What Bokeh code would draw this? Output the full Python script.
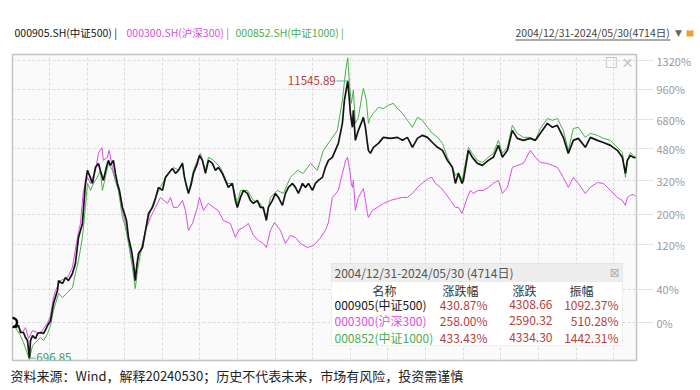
import pandas as pd
from bokeh.plotting import figure
from bokeh.core.properties import value
from bokeh.models import (Range1d, FixedTicker, CustomJSTickFormatter, Label,
                          BoxAnnotation, ColumnDataSource, Column)
from bokeh.embed import file_html
from bokeh.resources import INLINE

FONT = "Noto Sans CJK SC"
BASE = 1000.0

# ---------------- data (index levels, base 1000 on 2004-12-31) ----------------
CSI500_DATES = [
    "2004-12-31", "2005-02-04", "2005-03-10", "2005-04-01", "2005-05-05", "2005-05-28", "2005-06-20",
    "2005-07-11", "2005-07-24", "2005-08-16", "2005-09-19", "2005-10-12", "2005-11-15", "2005-12-19",
    "2006-02-03", "2006-03-09", "2006-04-11", "2006-05-27", "2006-06-08", "2006-07-23", "2006-08-26",
    "2006-09-29", "2006-11-13", "2006-12-17", "2007-01-21", "2007-03-07", "2007-04-10", "2007-05-03",
    "2007-05-26", "2007-06-29", "2007-08-02", "2007-09-05", "2007-09-27", "2007-10-31", "2007-12-04",
    "2007-12-27", "2008-01-19", "2008-02-22", "2008-03-16", "2008-04-08", "2008-05-01", "2008-06-04",
    "2008-06-27", "2008-07-20", "2008-08-12", "2008-09-15", "2008-10-08", "2008-10-28", "2008-11-12",
    "2008-12-04", "2009-01-19", "2009-02-22", "2009-03-28", "2009-05-12", "2009-06-15", "2009-07-19",
    "2009-09-03", "2009-10-07", "2009-11-10", "2009-12-25", "2010-01-29", "2010-03-04", "2010-04-18",
    "2010-05-11", "2010-06-25", "2010-07-29", "2010-08-21", "2010-10-05", "2010-10-28", "2010-12-01",
    "2011-01-05", "2011-02-08", "2011-03-25", "2011-04-28", "2011-06-01", "2011-07-16", "2011-08-19",
    "2011-09-22", "2011-11-07", "2011-12-11", "2012-01-03", "2012-02-07", "2012-03-12", "2012-04-26",
    "2012-05-30", "2012-07-03", "2012-08-17", "2012-09-20", "2012-10-24", "2012-11-28", "2012-12-21",
    "2013-02-05", "2013-03-11", "2013-04-14", "2013-05-30", "2013-07-03", "2013-08-06", "2013-09-21",
    "2013-10-25", "2013-11-28", "2014-01-13", "2014-02-16", "2014-03-22", "2014-05-06", "2014-06-09",
    "2014-07-13", "2014-08-28", "2014-10-01", "2014-11-04", "2014-12-19", "2015-01-22", "2015-02-25",
    "2015-04-12", "2015-05-05", "2015-06-12", "2015-07-01", "2015-07-12", "2015-08-04", "2015-08-15",
    "2015-09-07", "2015-10-11", "2015-11-25", "2015-12-07", "2015-12-30", "2016-01-22", "2016-02-02",
    "2016-02-25", "2016-03-30", "2016-05-26", "2016-07-22", "2016-10-10", "2016-12-29", "2017-02-24",
    "2017-04-21", "2017-06-17", "2017-08-13", "2017-10-09", "2017-12-05", "2018-01-31", "2018-03-29",
    "2018-05-25", "2018-07-20", "2018-09-15", "2018-10-19", "2018-11-22", "2019-01-03", "2019-01-18",
    "2019-03-16", "2019-04-30", "2019-06-26", "2019-08-22", "2019-10-29", "2019-12-25", "2020-02-20",
    "2020-04-06", "2020-06-02", "2020-07-28", "2020-09-23", "2020-11-30", "2021-02-18", "2021-04-16",
    "2021-06-12", "2021-08-31", "2021-10-27", "2021-12-22", "2022-02-28", "2022-04-26", "2022-06-22",
    "2022-08-18", "2022-11-06", "2023-01-02", "2023-03-23", "2023-05-30", "2023-08-18", "2023-11-05",
    "2024-01-01", "2024-02-05", "2024-02-27", "2024-04-01", "2024-05-05", "2024-05-30"]
CSI500_LEVELS = [
    1000, 951, 970, 904, 904, 860, 833,
    696.85, 833, 876, 850, 895, 904, 895,
    970, 1020, 1212, 1383, 1530, 1484, 1578,
    1530, 1643, 1818, 2367, 2727, 4091, 4668,
    4437, 4091, 4813, 5010, 4668, 4218, 4813,
    5166, 4911, 5166, 4527, 4091, 3811, 3209,
    3018, 2812, 2367, 2074, 1818, 1530, 1746,
    2011, 2139, 2541, 3018, 3209, 3510, 3930,
    3811, 4349, 4527, 4757, 4527, 4668, 5010,
    4349, 3697, 4091, 4527, 5010, 5435, 5166,
    4527, 5166, 5010, 4668, 4813, 4527, 4218,
    3930, 4091, 3444, 3209, 3551, 3811, 3697,
    3444, 3340, 3444, 3209, 3209, 2812, 3209,
    3444, 3697, 3551, 3274, 3697, 3930, 4091,
    3930, 3697, 4091, 3930, 4091, 3811, 4091,
    4218, 4349, 4813, 5166, 5327, 5717, 6137,
    7516, 9491, 11545.89, 9491, 8318, 7220, 8576,
    6327, 7002, 7749, 7990, 7220, 6137, 5717,
    5545, 5895, 6137, 6521, 6456, 6521, 6327,
    6521, 5895, 6456, 6656, 6521, 6190, 5895,
    5717, 5166, 4813, 4091, 4527, 4091, 4218,
    5717, 5327, 5010, 4911, 5166, 5327, 6015,
    5327, 5717, 7002, 6456, 6327, 6456, 6327,
    6791, 7516, 7220, 7366, 6521, 5545, 6327,
    6456, 5895, 6521, 6327, 6190, 6015, 5717,
    5327, 4527, 5166, 5435, 5327, 5308.66]

CSI300_DATES = [
    "2004-12-31", "2005-03-10", "2005-04-23", "2005-05-28", "2005-07-01", "2005-08-16", "2005-10-12",
    "2005-11-15", "2005-12-19", "2006-02-03", "2006-03-09", "2006-04-11", "2006-05-04", "2006-06-30",
    "2006-09-17", "2006-11-13", "2007-01-09", "2007-02-12", "2007-03-18", "2007-05-03", "2007-06-07",
    "2007-08-02", "2007-09-05", "2007-10-16", "2007-10-31", "2007-12-16", "2008-01-05", "2008-02-11",
    "2008-03-16", "2008-04-20", "2008-06-04", "2008-07-09", "2008-08-12", "2008-09-26", "2008-10-28",
    "2008-11-23", "2008-12-27", "2009-02-22", "2009-04-19", "2009-06-15", "2009-08-10", "2009-10-30",
    "2009-12-02", "2010-01-06", "2010-02-21", "2010-04-18", "2010-05-22", "2010-06-25", "2010-08-10",
    "2010-10-05", "2010-10-28", "2010-12-13", "2011-02-08", "2011-04-06", "2011-05-30", "2011-07-28",
    "2011-10-16", "2011-12-11", "2012-01-20", "2012-03-12", "2012-05-08", "2012-07-03", "2012-08-30",
    "2012-10-24", "2012-11-28", "2013-01-13", "2013-02-28", "2013-05-07", "2013-07-03", "2013-08-28",
    "2013-10-25", "2013-12-20", "2014-03-10", "2014-05-18", "2014-07-30", "2014-10-01", "2014-11-04",
    "2014-12-19", "2015-02-25", "2015-04-12", "2015-05-20", "2015-06-08", "2015-07-01", "2015-07-23",
    "2015-08-04", "2015-08-15", "2015-09-07", "2015-10-11", "2015-11-25", "2015-12-07", "2015-12-30",
    "2016-01-22", "2016-02-02", "2016-03-18", "2016-05-14", "2016-07-22", "2016-10-10", "2016-12-29",
    "2017-02-24", "2017-04-21", "2017-06-17", "2017-08-13", "2017-10-17", "2017-12-16", "2018-01-24",
    "2018-03-07", "2018-05-03", "2018-06-28", "2018-08-24", "2018-10-19", "2018-11-22", "2019-01-03",
    "2019-03-04", "2019-04-07", "2019-05-10", "2019-07-06", "2019-09-01", "2019-10-29", "2019-12-25",
    "2020-02-20", "2020-04-06", "2020-06-02", "2020-07-28", "2020-09-23", "2020-11-30", "2021-02-18",
    "2021-04-16", "2021-06-12", "2021-08-31", "2021-10-27", "2021-12-22", "2022-02-28", "2022-04-26",
    "2022-06-22", "2022-08-18", "2022-11-06", "2023-01-02", "2023-03-23", "2023-05-30", "2023-08-18",
    "2023-11-05", "2024-01-01", "2024-02-05", "2024-02-27", "2024-04-01", "2024-05-05", "2024-05-30"]
CSI300_LEVELS = [
    1000, 951, 904, 951, 850, 922, 904,
    895, 941, 1000, 1073, 1288, 1383, 1530,
    1578, 1746, 2367, 2727, 3811, 4349, 4091,
    4668, 5545, 5877, 5166, 5327, 5717, 4813,
    4218, 3811, 3112, 2727, 2296, 1818, 1578,
    1874, 2074, 2541, 2899, 3209, 3551, 3340,
    3551, 3209, 3209, 3444, 3112, 2541, 2727,
    3209, 3551, 3112, 3340, 3209, 3112, 2812,
    2727, 2367, 2560, 2620, 2727, 2415, 2296,
    2226, 2139, 2541, 2753, 2541, 2226, 2415,
    2367, 2226, 2139, 2182, 2341, 2541, 2753,
    3551, 3811, 4527, 5166, 5327, 4813, 4091,
    3930, 4218, 3112, 3551, 3811, 3885, 3444,
    3018, 2899, 3112, 3209, 3340, 3444, 3510,
    3551, 3551, 3697, 3930, 4128, 4298, 4349,
    4091, 3930, 3697, 3444, 3209, 3209, 3018,
    3551, 3811, 3697, 3811, 3811, 3930, 4091,
    4218, 3697, 3930, 4813, 4911, 5010, 5717,
    5327, 5054, 5010, 4911, 4813, 4349, 3930,
    4349, 4091, 3697, 3930, 4128, 4091, 3811,
    3551, 3444, 3274, 3551, 3623, 3660, 3590.32]

CSI1000_DATES = [
    "2004-12-31", "2005-04-01", "2005-05-05", "2005-07-11", "2005-08-16", "2005-10-12", "2005-11-15",
    "2005-12-19", "2006-02-03", "2006-03-09", "2006-04-11", "2006-06-08", "2006-07-23", "2006-09-17",
    "2006-11-13", "2006-12-17", "2007-01-21", "2007-03-07", "2007-04-10", "2007-05-03", "2007-06-07",
    "2007-07-10", "2007-08-24", "2007-09-27", "2007-10-20", "2007-11-23", "2007-12-27", "2008-02-11",
    "2008-03-16", "2008-04-20", "2008-06-04", "2008-07-09", "2008-08-12", "2008-09-26", "2008-10-28",
    "2008-11-23", "2008-12-27", "2009-02-22", "2009-04-19", "2009-06-15", "2009-08-10", "2009-10-07",
    "2009-12-02", "2010-01-06", "2010-03-04", "2010-04-18", "2010-05-22", "2010-06-25", "2010-08-21",
    "2010-10-05", "2010-11-09", "2011-01-05", "2011-02-08", "2011-04-06", "2011-06-24", "2011-09-12",
    "2011-11-07", "2012-01-03", "2012-02-07", "2012-04-26", "2012-07-03", "2012-09-20", "2012-11-28",
    "2013-01-13", "2013-04-03", "2013-06-10", "2013-08-28", "2013-11-16", "2014-01-23", "2014-04-13",
    "2014-07-01", "2014-09-08", "2014-11-27", "2015-02-14", "2015-04-12", "2015-05-20", "2015-06-12",
    "2015-07-01", "2015-07-23", "2015-08-15", "2015-09-07", "2015-10-11", "2015-11-25", "2015-12-07",
    "2016-01-10", "2016-02-02", "2016-02-25", "2016-03-30", "2016-05-26", "2016-07-22", "2016-09-17",
    "2016-11-13", "2016-12-29", "2017-02-24", "2017-04-21", "2017-06-17", "2017-08-13", "2017-10-09",
    "2017-12-05", "2018-01-31", "2018-03-29", "2018-05-25", "2018-07-20", "2018-09-15", "2018-10-19",
    "2018-11-22", "2019-01-03", "2019-03-16", "2019-04-30", "2019-06-26", "2019-08-22", "2019-10-29",
    "2019-12-25", "2020-02-20", "2020-04-06", "2020-06-02", "2020-07-28", "2020-09-23", "2020-11-30",
    "2021-02-18", "2021-04-16", "2021-06-12", "2021-08-31", "2021-10-27", "2021-12-22", "2022-02-28",
    "2022-04-26", "2022-06-22", "2022-08-18", "2022-11-06", "2023-01-02", "2023-03-23", "2023-05-30",
    "2023-08-18", "2023-11-05", "2024-01-01", "2024-02-05", "2024-02-27", "2024-04-01", "2024-05-05",
    "2024-05-30"]
CSI1000_LEVELS = [
    1000, 876, 817, 688, 792, 833, 860,
    833, 895, 970, 1129, 1341, 1288, 1355,
    1425, 1643, 1874, 2367, 3209, 4091, 3811,
    4091, 4349, 4668, 3811, 4349, 5010, 4668,
    4218, 3811, 2899, 2620, 2226, 1746, 1411,
    1694, 2011, 2541, 3112, 3551, 3930, 4349,
    4668, 4813, 4668, 5054, 4091, 3697, 4668,
    5166, 5545, 4668, 5327, 5166, 4813, 4091,
    4091, 3340, 3811, 3811, 3444, 3340, 2899,
    3551, 3811, 3697, 4349, 4668, 4527, 5010,
    4668, 5717, 6327, 7002, 9491, 12863, 14600,
    11270, 9205, 10504, 7516, 7990, 10188, 10700,
    9491, 7516, 7990, 8318, 8842, 8730, 9022,
    9205, 8730, 8318, 7749, 7220, 7990, 7749,
    7220, 6791, 6521, 6137, 5327, 4813, 4437,
    4568, 4218, 5895, 5545, 5166, 5054, 5327,
    5545, 6327, 5545, 5895, 7366, 6791, 6521,
    6521, 6327, 7132, 7890, 7749, 7890, 7002,
    5717, 7132, 7220, 6521, 6791, 6656, 6456,
    6327, 5895, 5593, 4349, 5166, 5593, 5435,
    5334.30]

Y_TICK_PCTS = [0, 40, 120, 200, 320, 480, 680, 960, 1320]

TOP_SERIES = ["000905.SH(中证500) |", "000300.SH(沪深300) |", "000852.SH(中证1000) |"]
PERIOD_TEXT = "2004/12/31-2024/05/30(4714日)"
TABLE_TITLE = "2004/12/31-2024/05/30 (4714日)"
TABLE_HEADERS = ["名称", "涨跌幅", "涨跌", "振幅"]
TABLE_NAMES = ["000905(中证500)", "000300(沪深300)", "000852(中证1000)"]
TABLE_CHG_PCT = ["430.87%", "258.00%", "433.43%"]
TABLE_CHG = ["4308.66", "2590.32", "4334.30"]
TABLE_AMP = ["1092.37%", "510.28%", "1442.31%"]
SOURCE_TEXT = "资料来源：Wind，解释20240530；历史不代表未来，市场有风险，投资需谨慎"

# ---------------- styling ----------------
C_BLACK = "#141414"
C_MAG = "#d64fe0"
C_GREEN = "#4cae4c"
C_RED = "#b5403a"
C_TEAL = "#5fb3c4"
C_AXIS = "#9a9a9a"
W = 698


def make_source(dates, levels):
    return ColumnDataSource(dict(x=pd.to_datetime(dates), y=[v / BASE for v in levels]))


def strip(height):
    f = figure(frame_width=W, frame_height=height, output_backend="svg", toolbar_location=None,
               x_range=Range1d(0, W), y_range=Range1d(height, 0),
               x_axis_location=None, y_axis_location=None,
               min_border=0, min_border_left=0, min_border_right=0,
               min_border_top=0, min_border_bottom=0)
    f.grid.visible = False
    f.outline_line_color = None
    f.background_fill_color = "white"
    f.border_fill_color = "white"
    return f


def stext(f, x, y, text, color, size, align="left", font=FONT):
    f.text(x=[x], y=[y], text=[text], text_color=color, text_font=value(font),
           text_font_size=size, text_align=align, text_baseline="middle")


src500 = make_source(CSI500_DATES, CSI500_LEVELS)
src300 = make_source(CSI300_DATES, CSI300_LEVELS)
src1000 = make_source(CSI1000_DATES, CSI1000_LEVELS)

y_ticks = [1 + v / 100.0 for v in Y_TICK_PCTS]

x_start = pd.Timestamp(CSI500_DATES[0])
x_end = pd.Timestamp(CSI500_DATES[-1]) + pd.Timedelta(days=11)

# ---------------- top strip (series list + period) ----------------
top = strip(46)
legend_x = [14, 126, 235]
for t, c, lx in zip(TOP_SERIES, [C_BLACK, C_MAG, C_GREEN], legend_x):
    stext(top, lx, 32, t, c, "10.5px")
stext(top, 515, 32, PERIOD_TEXT, "#444444", "10.5px")
top.segment(x0=[515], y0=[39.5], x1=[670], y1=[39.5], line_color="#555555", line_width=1)
stext(top, 678, 32, "▼", "#666666", "9px", align="center", font="DejaVu Sans")
top.quad(left=[686], right=[693], top=[30], bottom=[36], fill_color="#f0a030", line_color=None)
top.arc(x=[689.5], y=[30], radius=2.5, start_angle=0, end_angle=3.14159,
        line_color="#f0a030", line_width=1.3, direction="clock")

# ---------------- main chart ----------------
p = figure(width=W, height=318, output_backend="svg", toolbar_location=None,
           x_axis_type="datetime", y_axis_type="log",
           x_axis_location=None, y_axis_location="right",
           x_range=Range1d(x_start, x_end), y_range=Range1d(0.681, 15.09),
           min_border_left=12, min_border_right=W - 636, min_border_top=8, min_border_bottom=4)

p.background_fill_color = "#fafafa"
p.border_fill_color = "white"
p.outline_line_color = "#c4c4c4"
p.outline_line_width = 1.5

grid_dates = pd.date_range("2006-02-25", periods=16, freq="428D")
p.xgrid.ticker = FixedTicker(ticks=[d.timestamp() * 1000 for d in grid_dates])
p.ygrid.ticker = FixedTicker(ticks=y_ticks)
for g in (p.xgrid, p.ygrid):
    g.grid_line_color = "#dcdcdc"
    g.grid_line_dash = "3 2"
    g.grid_line_width = 1

ax = p.yaxis[0]
ax.ticker = FixedTicker(ticks=y_ticks)
ax.formatter = CustomJSTickFormatter(code="return Math.round((tick - 1) * 100) + '%';")
ax.axis_line_color = None
ax.major_tick_in = 0
ax.major_tick_out = 17
ax.major_tick_line_color = "#e2e2e2"
ax.minor_tick_line_color = None
ax.major_label_standoff = 3
ax.major_label_text_color = C_AXIS
ax.major_label_text_font = FONT
ax.major_label_text_font_size = "11px"

p.line("x", "y", source=src300, line_color=C_MAG, line_width=1)
p.line("x", "y", source=src1000, line_color=C_GREEN, line_width=1)
p.line("x", "y", source=src500, line_color=C_BLACK, line_width=1.7)

p.scatter(x=[x_start], y=[CSI500_LEVELS[0] / BASE], marker="circle", size=9,
          fill_color="white", line_color="black", line_width=2.5)

i_max = CSI500_LEVELS.index(max(CSI500_LEVELS))
i_min = CSI500_LEVELS.index(min(CSI500_LEVELS))
d_max = pd.Timestamp(CSI500_DATES[i_max])
d_min = pd.Timestamp(CSI500_DATES[i_min])
v_max = CSI500_LEVELS[i_max]
v_min = CSI500_LEVELS[i_min]
p.segment(x0=[d_max - pd.Timedelta(days=130)], y0=[v_max / BASE], x1=[d_max], y1=[v_max / BASE],
          line_color=C_TEAL, line_width=1)
p.segment(x0=[d_min], y0=[v_min / BASE], x1=[d_min + pd.Timedelta(days=75)], y1=[v_min / BASE],
          line_color=C_TEAL, line_width=1)
p.add_layout(Label(x=d_max.timestamp() * 1000, y=v_max / BASE, x_offset=-12, text=f"{v_max:.2f}",
                   text_align="right", text_baseline="middle", text_color=C_RED,
                   text_font=FONT, text_font_size="11.5px"))
p.add_layout(Label(x=d_min.timestamp() * 1000, y=v_min / BASE, x_offset=7, y_offset=1, text=f"{v_min:.2f}",
                   text_align="left", text_baseline="middle", text_color="#3f9a73",
                   text_font=FONT, text_font_size="11.5px"))


def lab(x, y, text, color="#333333", size="12px", align="left", font=FONT):
    p.add_layout(Label(x=x, y=y, x_units="screen", y_units="screen", text=text,
                       text_align=align, text_baseline="middle", text_color=color,
                       text_font=font, text_font_size=size))


def sbox(left, right, bottom, top_, fill, line):
    p.add_layout(BoxAnnotation(left=left, right=right, bottom=bottom, top=top_,
                               left_units="screen", right_units="screen",
                               bottom_units="screen", top_units="screen",
                               fill_color=fill, fill_alpha=1, line_color=line, line_width=1))


lab(599, 298, "☐", color="#c4c4c4", size="15px", align="center", font="DejaVu Sans")
lab(615, 298, "✕", color="#c4c4c4", size="14px", align="center", font="DejaVu Sans")

# info table
sbox(319, 610, 15, 97, "white", "#cfcfcf")
sbox(319, 610, 79, 97, "#ededed", "#cfcfcf")
lab(322, 88, TABLE_TITLE, color="#555555", size="12px")
lab(602, 88, "⊠", color="#b0b0b0", size="12px", align="center", font="DejaVu Sans")
header_x = [372, 448, 512, 569]
for h, hx in zip(TABLE_HEADERS, header_x):
    lab(hx, 70, h, color="#333333", size="12px", align="center")
row_y = [56, 40, 23]
name_colors = [C_BLACK, C_MAG, C_GREEN]
for i in range(3):
    lab(322, row_y[i], TABLE_NAMES[i], color=name_colors[i], size="12px")
    lab(475, row_y[i], TABLE_CHG_PCT[i], color=C_RED, size="12px", align="right")
    lab(540, row_y[i], TABLE_CHG[i], color=C_RED, size="12px", align="right")
    lab(606, row_y[i], TABLE_AMP[i], color=C_RED, size="12px", align="right")

# ---------------- bottom strip (source note) ----------------
bottom = strip(24)
stext(bottom, 10, 11, SOURCE_TEXT, "#222222", "13px")

layout = Column(children=[Column(children=[top]), p, Column(children=[bottom])], spacing=0)
open("out.html", "w").write(file_html(layout, INLINE))
